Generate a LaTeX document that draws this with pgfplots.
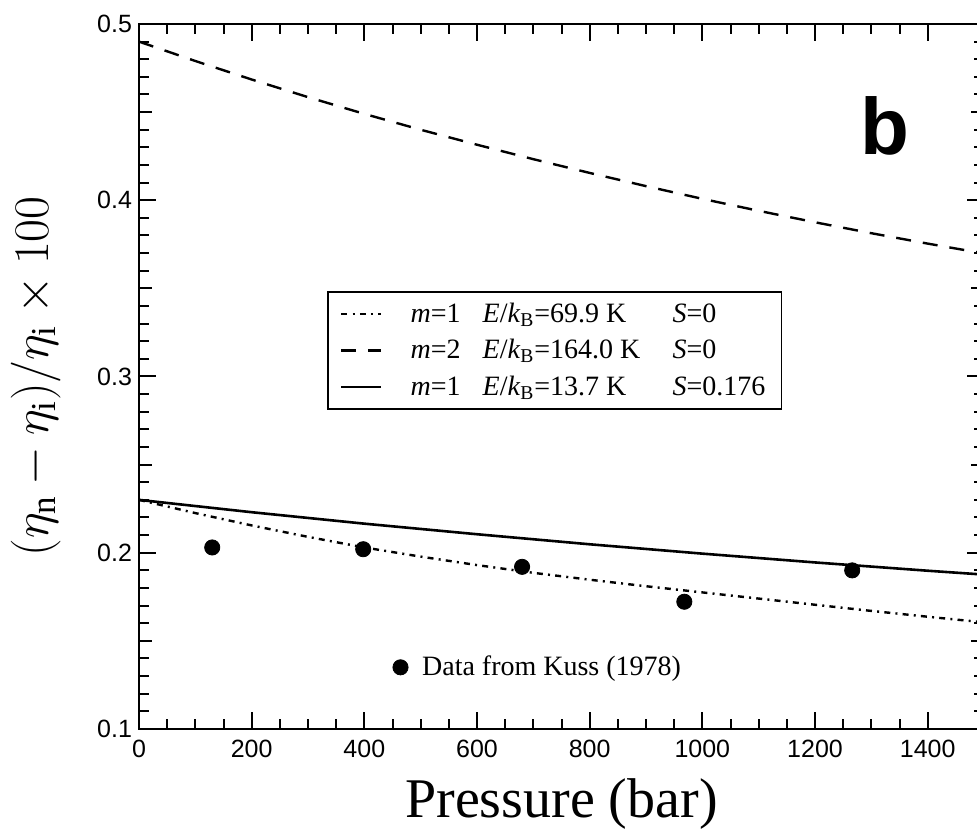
\documentclass[border=0pt]{standalone}
\usepackage{fontspec}
\setmainfont{Liberation Serif}
\newfontfamily\hel{Liberation Sans}
\usepackage{pgfplots}
\pgfplotsset{compat=1.18}
\pgfplotstableread{
x y
0 0.230
100 0.2225
200 0.2155
300 0.2090
400 0.2030
500 0.1978
600 0.1930
700 0.1886
800 0.1847
900 0.1810
1000 0.1775
1100 0.1740
1200 0.1705
1300 0.1670
1400 0.1637
1500 0.1605
}\dashdot
\pgfplotstableread{
x y
0 0.490
100 0.4790
200 0.4685
300 0.4585
400 0.4490
500 0.4400
600 0.4315
700 0.4233
800 0.4155
900 0.4080
1000 0.4008
1100 0.3940
1200 0.3875
1300 0.3813
1400 0.3754
1500 0.3698
}\dashed
\pgfplotstableread{
x y
0 0.2300
200 0.2230
400 0.2165
600 0.2105
800 0.2048
1000 0.1995
1200 0.1945
1400 0.1898
1500 0.1876
}\solid
\pgfplotstableread{
x y
130 0.2030
398 0.2020
680 0.1920
968 0.1722
1266 0.1900
}\kuss
\begin{document}
\begin{tikzpicture}
\pgfplotsset{
  common/.style={
    at={(0pt,0pt)}, anchor=south west,
    scale only axis, width=422.5pt, height=352.5pt,
    xmin=0, xmax=1500, ymin=0.1, ymax=0.5,
  }
}
\begin{axis}[
  common,
  xtick={0,200,...,1400}, minor x tick num=3,
  ytick={0.1,0.2,0.3,0.4,0.5}, minor y tick num=9,
  extra y ticks={0.15,0.25,0.35,0.45},
  extra y tick labels={},
  extra y tick style={major tick length=6.5pt},
  xtick pos=both, ytick pos=both,
  xticklabel pos=bottom, yticklabel pos=left,
  tick align=inside,
  major tick length=8.5pt, minor tick length=5pt,
  every tick/.style={black, line width=1pt},
  axis line style={line width=1.1pt},
  /pgf/number format/assume math mode=true,
  ticklabel style={font=\hel\fontsize{12.5}{14}\selectfont},
  xticklabel style={/pgf/number format/1000 sep={}, yshift=-2pt},
  yticklabel style={/pgf/number format/fixed, /pgf/number format/fixed zerofill, /pgf/number format/precision=1},
  xlabel={Pressure (bar)},
  xlabel style={font=\fontsize{28}{32}\selectfont, at={(axis description cs:0.5,-0.125)}, anchor=base},
  ylabel={$(\eta_{\mathrm{n}}-\eta_{\mathrm{i}})/\eta_{\mathrm{i}}\times 100$},
  ylabel style={font=\fontsize{25}{30}\selectfont, at={(axis description cs:-0.122,0.5)}, anchor=center},
  legend style={at={(axis cs:334,0.281)}, anchor=south west, draw=black, line width=0.9pt,
    font=\fontsize{14}{16}\selectfont, row sep=3pt, inner xsep=6pt, inner ysep=3.5pt},
  legend cell align=left,
  legend image code/.code={\draw[#1] (0pt,0pt) -- (20pt,0pt);},
  /tikz/every odd column/.style={column sep=12pt},
]
\addplot[black, line width=1.2pt, dash pattern=on 3pt off 2.6pt on 1pt off 2.6pt] table {\dashdot};
\addlegendentry{\makebox[36pt][l]{\textit{m}=1}\makebox[95pt][l]{\textit{E}/\textit{k}\textsubscript{B}=69.9 K}\textit{S}=0}
\addplot[black, line width=1.2pt, dash pattern=on 7.5pt off 6pt] table {\dashed};
\addlegendentry{\makebox[36pt][l]{\textit{m}=2}\makebox[95pt][l]{\textit{E}/\textit{k}\textsubscript{B}=164.0 K}\textit{S}=0}
\addplot[black, line width=1.3pt] table {\solid};
\addlegendentry{\makebox[36pt][l]{\textit{m}=1}\makebox[95pt][l]{\textit{E}/\textit{k}\textsubscript{B}=13.7 K}\textit{S}=0.176}
\node[font=\hel\bfseries\fontsize{40}{46}\selectfont] at (axis cs:1325,0.442) {b};
\end{axis}
\begin{axis}[
  common, hide axis,
  legend style={at={(axis cs:450,0.135)}, anchor=west, draw=none, fill=none,
    font=\fontsize{14}{16}\selectfont, inner sep=0pt},
  legend image code/.code={\draw[#1] plot coordinates {(4pt,0pt)};},
]
\addplot[only marks, mark=*, mark size=3.8pt, black] table {\kuss};
\addlegendentry{\hspace{5pt}Data from Kuss (1978)}
\end{axis}
\pgfresetboundingbox
\useasboundingbox (-69.5pt,-54.5pt) rectangle (419pt,364.5pt);
\end{tikzpicture}
\end{document}
